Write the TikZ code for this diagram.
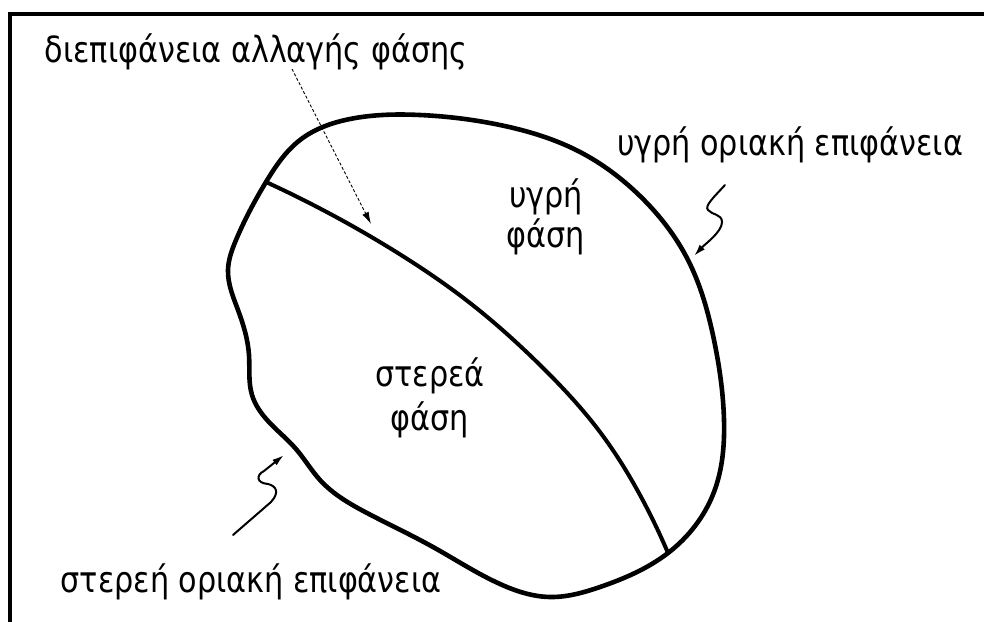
\documentclass[tikz,border=0pt]{standalone}
\usepackage{fontspec}
\setmainfont{DejaVu Sans}[FakeStretch=0.84]
\usetikzlibrary{arrows.meta,hobby}
\begin{document}
\begin{tikzpicture}[x=1pt,y=-1pt,
  lbl/.style={font=\fontsize{36}{40}\selectfont, inner sep=0pt, align=center},
  bound/.style={line width=4.6pt, line join=round, line cap=round},
  ptr/.style={line width=2pt, line cap=round, -{Latex[length=12pt,width=7pt]}},
  dptr/.style={line width=0.9pt, dash pattern=on 3pt off 2pt, -{Latex[length=12pt,width=7pt]}},
]
\useasboundingbox (0,0) rectangle (984,621);
\fill[white] (0,0) rectangle (984,621);
\draw[line width=4pt] (10,623) -- (10,14) -- (986,14);

% outline of the body
\draw[bound] plot[closed hobby] coordinates {
  (266,182) (300,140) (350,119) (420,115) (500,125) (580,152) (640,196)
  (688,260) (714,340) (724,420) (714,492) (668,553) (600,587)
  (550,597) (500,584) (433,547) (367,513) (320,480) (296,449) (268,421)
  (252,395) (249,355) (238,310) (228,270) (236,240)};

% phase-change interface
\coordinate (jtop) at (266,182);
\coordinate (jbot) at (668,553);
\draw[line width=4pt, line cap=round] plot[hobby] coordinates {
  (jtop) (393,250) (470,303) (540,365) (600,432) (640,495) (jbot)};

% labels
\node[lbl, anchor=base] (ifc) at (256,62) {διεπιφάνεια αλλαγής φάσης};
\node[lbl, anchor=base] (liqb) at (790,155) {υγρή οριακή επιφάνεια};
\node[lbl, anchor=base] (liq) at (546,247) {υγρή\\φάση};
\node[lbl, anchor=base] (sol) at (430,430) {στερεά\\[4pt]φάση};
\node[lbl, anchor=base] (solb) at (251,592) {στερεή οριακή επιφάνεια};

% pointers
\coordinate (ifcs) at (292,69);
\coordinate (ifct) at (371,224);
\draw[dptr] (ifcs) -- (ifct);

\coordinate (lbs) at (725,185);
\coordinate (lbt) at (694,256);
\draw[ptr] (lbs) .. controls (715,196) and (704,206) .. (708,210)
  .. controls (712,215) and (722,214) .. (722,222)
  .. controls (722,232) and (705,244) .. (lbt);

\coordinate (sbs) at (233,535);
\coordinate (sbt) at (284,455);
\draw[ptr] (sbs) -- (271,502) .. controls (280,492) and (276,486) .. (268,484)
  .. controls (256,483) and (256,475) .. (264,471) -- (sbt);
\end{tikzpicture}
\end{document}
